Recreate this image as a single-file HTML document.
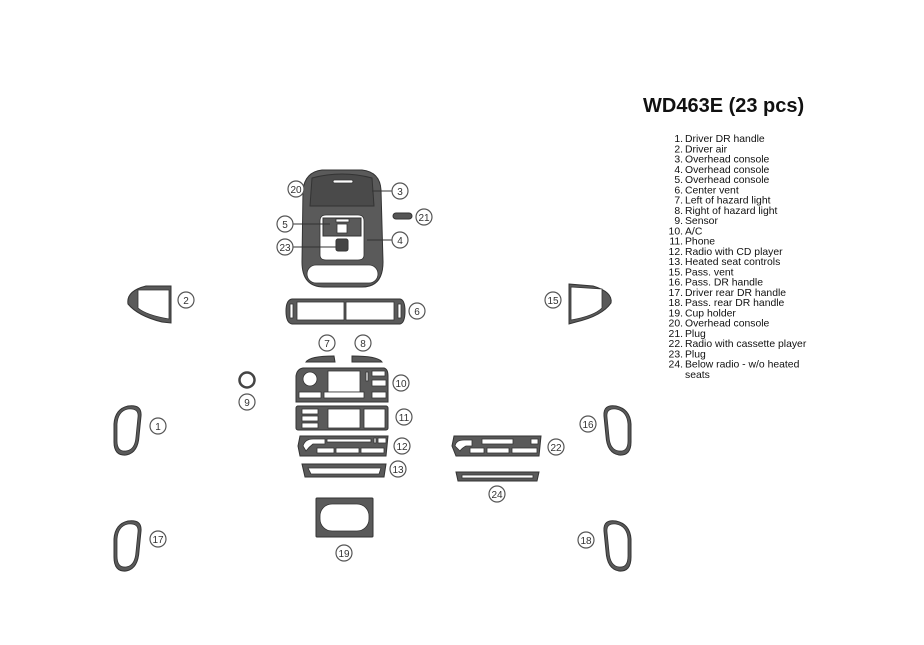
<!DOCTYPE html>
<html><head><meta charset="utf-8"><style>
html,body{margin:0;padding:0;background:#fff}
svg{display:block}
text{font-family:"Liberation Sans",Arial,sans-serif}
.l circle{fill:#fff;stroke:#555;stroke-width:1.2}
.l text{font-size:10px;fill:#333;text-anchor:middle}
.p{fill:#5a5a5a;stroke:#333;stroke-width:1}
.h{fill:#fff;stroke:#333;stroke-width:0.8}
.leg{font-size:10.4px;fill:#111}
</style></head><body>
<svg width="924" height="645" viewBox="0 0 924 645" xmlns="http://www.w3.org/2000/svg">
<!-- title -->
<text x="643" y="112" style="font-size:20px;font-weight:bold" fill="#111">WD463E (23 pcs)</text>
<g class="leg">
<text x="683" y="142" text-anchor="end">1.</text><text x="685" y="142">Driver DR handle</text>
<text x="683" y="152.3" text-anchor="end">2.</text><text x="685" y="152.3">Driver air</text>
<text x="683" y="162.5" text-anchor="end">3.</text><text x="685" y="162.5">Overhead console</text>
<text x="683" y="172.8" text-anchor="end">4.</text><text x="685" y="172.8">Overhead console</text>
<text x="683" y="183" text-anchor="end">5.</text><text x="685" y="183">Overhead console</text>
<text x="683" y="193.3" text-anchor="end">6.</text><text x="685" y="193.3">Center  vent</text>
<text x="683" y="203.6" text-anchor="end">7.</text><text x="685" y="203.6">Left of hazard light</text>
<text x="683" y="213.8" text-anchor="end">8.</text><text x="685" y="213.8">Right of hazard light</text>
<text x="683" y="224.1" text-anchor="end">9.</text><text x="685" y="224.1">Sensor</text>
<text x="683" y="234.3" text-anchor="end">10.</text><text x="685" y="234.3">A/C</text>
<text x="683" y="244.6" text-anchor="end">11.</text><text x="685" y="244.6">Phone</text>
<text x="683" y="254.9" text-anchor="end">12.</text><text x="685" y="254.9">Radio with CD player</text>
<text x="683" y="265.1" text-anchor="end">13.</text><text x="685" y="265.1">Heated seat controls</text>
<text x="683" y="275.4" text-anchor="end">15.</text><text x="685" y="275.4">Pass. vent</text>
<text x="683" y="285.6" text-anchor="end">16.</text><text x="685" y="285.6">Pass. DR handle</text>
<text x="683" y="295.9" text-anchor="end">17.</text><text x="685" y="295.9">Driver  rear DR handle</text>
<text x="683" y="306.2" text-anchor="end">18.</text><text x="685" y="306.2">Pass. rear DR handle</text>
<text x="683" y="316.4" text-anchor="end">19.</text><text x="685" y="316.4">Cup holder</text>
<text x="683" y="326.7" text-anchor="end">20.</text><text x="685" y="326.7">Overhead console</text>
<text x="683" y="336.9" text-anchor="end">21.</text><text x="685" y="336.9">Plug</text>
<text x="683" y="347.2" text-anchor="end">22.</text><text x="685" y="347.2">Radio with cassette player</text>
<text x="683" y="357.5" text-anchor="end">23.</text><text x="685" y="357.5">Plug</text>
<text x="683" y="367.7" text-anchor="end">24.</text><text x="685" y="367.7">Below radio - w/o heated</text>
<text x="685" y="378">seats</text>
</g>

<!-- piece 2 -->
<path class="p" d="M146,286 L171,286 L171,323 L162,322 Q138,316 128,304 Q126,291 146,286Z"/>
<path class="h" d="M138,290 L169,290 L169,319 Q146,315 138,308Z"/>
<!-- piece 15 -->
<path class="p" d="M569,284 L593,286 Q613,292 611,303 Q602,316 576,322 L569,324Z"/>
<path class="h" d="M571,287 L602,289 L602,308 Q594,316 571,320Z"/>
<!-- handles 1,17,16,18 -->
<g>
<path class="p" d="M128,406 Q142,404 141,416 L139,436 Q138,453 126,455 Q114,456 114,442 L114,424 Q115,409 128,406Z"/>
<path class="h" d="M128,409 Q139,408 138,417 L136,437 Q135,450 126,451 Q117,452 117,441 L117,424 Q118,411 128,409Z"/>
<path class="p" d="M128,521 Q142,519 141,531 L139,551 Q138,569 126,571 Q114,572 114,557 L114,539 Q115,524 128,521Z"/>
<path class="h" d="M128,524 Q139,523 138,532 L136,552 Q135,566 126,567 Q117,568 117,556 L117,539 Q118,526 128,524Z"/>
<path class="p" d="M616,406 Q630,409 631,424 L631,442 Q631,456 619,455 Q607,453 606,436 L604,416 Q603,404 616,406Z"/>
<path class="h" d="M616,409 Q627,411 628,424 L628,441 Q628,452 619,451 Q610,450 609,437 L607,417 Q606,408 616,409Z"/>
<path class="p" d="M616,521 Q630,524 631,539 L631,557 Q631,572 619,571 Q607,569 606,551 L604,531 Q603,519 616,521Z"/>
<path class="h" d="M616,524 Q627,526 628,539 L628,556 Q628,568 619,567 Q610,566 609,552 L607,532 Q606,523 616,524Z"/>
</g>
<!-- 9 ring -->
<circle cx="247" cy="380" r="7.5" fill="none" stroke="#444" stroke-width="2.5"/>

<!-- overhead console -->
<path class="p" d="M322,170 L362,170 Q380,172 381,190 L383,262 Q383,287 362,287 L324,287 Q302,287 302,262 L303,190 Q305,172 322,170Z"/>
<rect class="h" x="307" y="265" width="71" height="18" rx="9"/>
<path class="p" d="M312,178 Q342,170 372,178 L374,206 L310,206Z" style="fill:#4a4a4a"/>
<rect class="h" x="333" y="180" width="20" height="3" rx="1.5"/>
<path class="h" d="M326,215 L358,215 Q364,215 364,221 L364,255 Q364,260 358,260 L326,260 Q320,260 320,255 L320,221 Q320,215 326,215Z"/>
<path class="p" d="M323,218 L361,218 L361,236 L323,236Z" style="fill:#5a5a5a"/>
<rect class="h" x="336" y="219" width="13" height="3"/>
<rect class="h" x="337" y="224" width="10" height="9"/>
<rect class="p" x="336" y="239" width="12" height="12" rx="2" style="fill:#444"/>
<!-- 21 plug -->
<rect x="393" y="213" width="19" height="6" rx="3" fill="#555" stroke="#333"/>
<!-- leader lines -->
<g stroke="#333" stroke-width="1">
<line x1="372" y1="191" x2="393" y2="191"/>
<line x1="291" y1="224" x2="330" y2="224"/>
<line x1="292" y1="247" x2="336" y2="247"/>
<line x1="367" y1="240" x2="393" y2="240"/>
</g>

<!-- 6 center vent -->
<path class="p" d="M292,299 L400,299 Q405,300 405,311 Q405,323 400,324 L292,324 Q286,323 286,311 Q286,300 292,299Z"/>
<rect class="h" x="297" y="302" width="47" height="18"/>
<rect class="h" x="346" y="302" width="48" height="18"/>
<rect class="h" x="290" y="304" width="3" height="14"/>
<rect class="h" x="398" y="304" width="3" height="14"/>

<!-- 7, 8 -->
<path class="p" d="M306,362 Q310,356 334,356 L335,362Z"/>
<path class="p" d="M352,356 Q378,356 382,362 L352,362Z"/>

<!-- 10 -->
<path class="p" d="M303,368 L384,368 Q388,369 388,376 L388,402 L296,402 L296,376 Q297,369 303,368Z"/>
<circle class="h" cx="310" cy="379" r="7"/>
<rect class="h" x="328" y="371" width="32" height="21"/>
<rect class="h" x="366" y="372" width="2" height="9"/>
<rect class="h" x="372" y="371" width="13" height="5"/>
<rect class="h" x="372" y="380" width="14" height="6"/>
<rect class="h" x="299" y="392" width="22" height="6"/>
<rect class="h" x="324" y="392" width="40" height="6"/>
<rect class="h" x="372" y="392" width="14" height="6"/>
<!-- 11 -->
<rect class="p" x="296" y="406" width="92" height="24" rx="2"/>
<rect class="h" x="302" y="409" width="16" height="5"/>
<rect class="h" x="302" y="416" width="16" height="5"/>
<rect class="h" x="302" y="423" width="16" height="5"/>
<rect class="h" x="328" y="409" width="32" height="19"/>
<rect class="h" x="364" y="409" width="21" height="19"/>
<!-- 12 -->
<path class="p" d="M300,436 L388,436 L386,456 L300,456 L298,446Z"/>
<path class="h" d="M303,446 Q305,439 313,439 L325,439 L325,444 L313,444 Q309,447 306,451Z"/>
<rect class="h" x="327" y="439" width="44" height="3"/>
<rect class="h" x="374" y="438" width="2" height="5"/>
<rect class="h" x="378" y="438" width="8" height="5"/>
<rect class="h" x="317" y="448" width="17" height="5"/>
<rect class="h" x="336" y="448" width="23" height="5"/>
<rect class="h" x="361" y="448" width="23" height="5"/>
<!-- 13 -->
<path class="p" d="M302,464 L386,464 L384,477 L305,477Z"/>
<path class="h" d="M308,468 L381,468 L379,474 L311,474Z"/>
<!-- 19 -->
<rect class="p" x="316" y="498" width="57" height="39" rx="1"/>
<rect class="h" x="320" y="504" width="49" height="27" rx="12"/>
<!-- 22 -->
<path class="p" d="M454,436 L541,436 L539,456 L456,456 L452,446Z"/>
<path class="h" d="M455,446 Q456,440 464,440 L472,440 L472,446 L466,446 Q462,448 460,451Z"/>
<rect class="h" x="482" y="439" width="31" height="5"/>
<rect class="h" x="531" y="439" width="7" height="5"/>
<rect class="h" x="470" y="448" width="14" height="5"/>
<rect class="h" x="487" y="448" width="22" height="5"/>
<rect class="h" x="512" y="448" width="25" height="5"/>
<!-- 24 -->
<path class="p" d="M456,472 L539,472 L537,481 L458,481Z"/>
<rect class="h" x="462" y="475" width="71" height="3"/>

<!-- labels -->
<g class="l">
<circle cx="186" cy="300" r="8"/><text x="186" y="304">2</text>
<circle cx="158" cy="426" r="8"/><text x="158" y="430">1</text>
<circle cx="158" cy="539" r="8"/><text x="158" y="543">17</text>
<circle cx="247" cy="402" r="8"/><text x="247" y="406">9</text>
<circle cx="553" cy="300" r="8"/><text x="553" y="304">15</text>
<circle cx="588" cy="424" r="8"/><text x="588" y="428">16</text>
<circle cx="586" cy="540" r="8"/><text x="586" y="544">18</text>
<circle cx="296" cy="189" r="8"/><text x="296" y="193">20</text>
<circle cx="400" cy="191" r="8"/><text x="400" y="195">3</text>
<circle cx="285" cy="224" r="8"/><text x="285" y="228">5</text>
<circle cx="285" cy="247" r="8"/><text x="285" y="251">23</text>
<circle cx="400" cy="240" r="8"/><text x="400" y="244">4</text>
<circle cx="424" cy="217" r="8"/><text x="424" y="221">21</text>
<circle cx="417" cy="311" r="8"/><text x="417" y="315">6</text>
<circle cx="327" cy="343" r="8"/><text x="327" y="347">7</text>
<circle cx="363" cy="343" r="8"/><text x="363" y="347">8</text>
<circle cx="401" cy="383" r="8"/><text x="401" y="387">10</text>
<circle cx="404" cy="417" r="8"/><text x="404" y="421">11</text>
<circle cx="402" cy="446" r="8"/><text x="402" y="450">12</text>
<circle cx="398" cy="469" r="8"/><text x="398" y="473">13</text>
<circle cx="344" cy="553" r="8"/><text x="344" y="557">19</text>
<circle cx="556" cy="447" r="8"/><text x="556" y="451">22</text>
<circle cx="497" cy="494" r="8"/><text x="497" y="498">24</text>
</g>
</svg>
</body></html>
